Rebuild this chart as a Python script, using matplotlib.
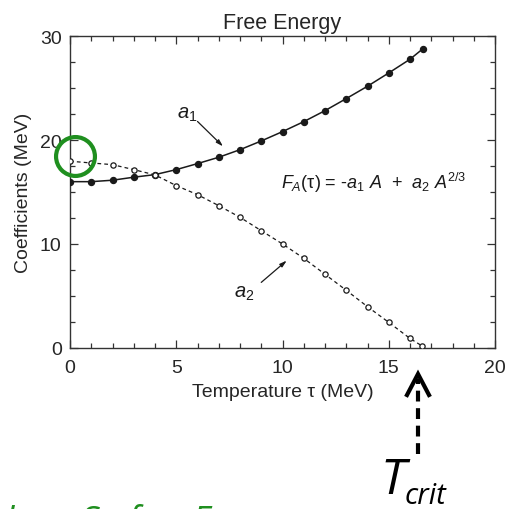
import numpy as np
import matplotlib
matplotlib.use("Agg")
import matplotlib.pyplot as plt
from matplotlib.lines import Line2D
from matplotlib.ticker import MultipleLocator

# ---- data ----
temp_a1 = [0, 1, 2, 3, 4, 5, 6, 7, 8, 9, 10, 11, 12, 13, 14, 15, 16, 16.6]
a1_vals = [16.0, 16.0, 16.14, 16.43, 16.68, 17.16, 17.74, 18.35, 19.08, 19.92,
           20.82, 21.78, 22.84, 24.0, 25.19, 26.47, 27.79, 28.79]
temp_a2 = [0, 1, 2, 3, 4, 5, 6, 7, 8, 9, 10, 11, 12, 13, 14, 15, 16, 16.55]
a2_vals = [17.97, 17.8, 17.64, 17.16, 16.65, 15.62, 14.75, 13.69, 12.57, 11.28,
           10.0, 8.62, 7.08, 5.54, 3.96, 2.45, 0.9, 0.2]
x_ticks = [0, 5, 10, 15, 20]
y_ticks = [0, 10, 20, 30]
title = "Free Energy"
xlabel = "Temperature τ (MeV)"
ylabel = "Coefficients (MeV)"

plt.rcParams['font.family'] = ['Liberation Sans', 'DejaVu Sans']
plt.rcParams['mathtext.fontset'] = 'custom'
plt.rcParams['mathtext.rm'] = 'Liberation Sans'
plt.rcParams['mathtext.it'] = 'Liberation Sans:italic'

W, H = 506, 510
fig = plt.figure(figsize=(W / 100, H / 100), dpi=100)
ax = fig.add_axes([70 / W, 1 - 348.8 / H, 425 / W, (348.8 - 37.3) / H])

ink = '#1a1a1a'
txt = '#262626'
ax.plot(temp_a1, a1_vals, '-', color=ink, lw=1.1, marker='o', ms=4.3,
        mfc=ink, mec=ink, zorder=3)
ax.plot(temp_a2, a2_vals, color=ink, lw=0.9, ls=(0, (3, 2.5)), marker='o', ms=3.8,
        mfc='white', mec=ink, mew=0.9, zorder=3)

ax.set_xlim(0, 20)
ax.set_ylim(0, 30)
ax.set_xticks(x_ticks)
ax.set_yticks(y_ticks)
ax.xaxis.set_minor_locator(MultipleLocator(1))
ax.yaxis.set_minor_locator(MultipleLocator(2.5))
ax.tick_params(which='both', direction='in', top=True, right=True, color='#333333',
               width=0.9)
ax.tick_params(which='major', length=5.5)
ax.tick_params(which='minor', length=3.5)
ax.tick_params(axis='x', which='major', pad=8, labelsize=14, labelcolor=txt)
ax.tick_params(axis='y', which='major', pad=6, labelsize=14, labelcolor=txt)
for s in ax.spines.values():
    s.set_color('#333333')
    s.set_linewidth(1.0)

ax.set_title(title, fontsize=15.5, color=txt, pad=6)
ax.set_xlabel(xlabel, fontsize=14, color=txt, labelpad=5)
ax.set_ylabel(ylabel, fontsize=14, color=txt, labelpad=6)

# annotations
ax.text(5.5, 22.6, r'$a_1$', fontsize=14.5, color=ink, ha='center', va='center')
ax.annotate('', xy=(7.2, 19.4), xytext=(6.0, 21.8),
            arrowprops=dict(arrowstyle='-|>,head_length=0.4,head_width=0.12',
                            color=ink, lw=0.9, shrinkA=0, shrinkB=0))
ax.text(8.2, 5.3, r'$a_2$', fontsize=14.5, color=ink, ha='center', va='center')
ax.annotate('', xy=(10.2, 8.4), xytext=(9.0, 6.3),
            arrowprops=dict(arrowstyle='-|>,head_length=0.4,head_width=0.12',
                            color=ink, lw=0.9, shrinkA=0, shrinkB=0))
ax.text(14.3, 16.0, r'$F_A$(τ) = -$a_1$ $A$  +  $a_2$ $A^{2/3}$', fontsize=13,
        color=ink, ha='center', va='center')

# green highlight circle
green = '#1f8f1f'
ax.plot([0.24], [18.48], marker='o', ms=28, mfc='none', mec=green, mew=3.0,
        clip_on=False, zorder=5)

# T_crit arrow (figure pixels)
def fp(px, py):
    return (px / W, 1 - py / H)

x0, y0 = fp(418, 455)
x1, y1 = fp(418, 380)
fig.add_artist(Line2D([x0, x1], [y0, y1], transform=fig.transFigure, color='black',
                      lw=3.0, ls=(0, (2.6, 1.6))))
fig.add_artist(Line2D([fp(407, 396)[0], fp(418, 375)[0], fp(429, 396)[0]],
                      [fp(407, 396)[1], fp(418, 375)[1], fp(429, 396)[1]],
                      transform=fig.transFigure, color='black', lw=3.0,
                      solid_joinstyle='miter'))
cal = ['Open Sans', 'DejaVu Sans']
fig.text(*fp(380, 494), 'T', fontsize=36, family=cal,
         style='italic', ha='left', va='baseline', color='black')
fig.text(*fp(405, 504), 'crit', fontsize=21, family=cal,
         style='italic', ha='left', va='baseline', color='black')

fig.text(*fp(-35, 532), 'Value   S   for  E', fontsize=26,
         family=cal, style='italic', ha='left',
         va='baseline', color=green)

fig.savefig('out.png', dpi=100)
